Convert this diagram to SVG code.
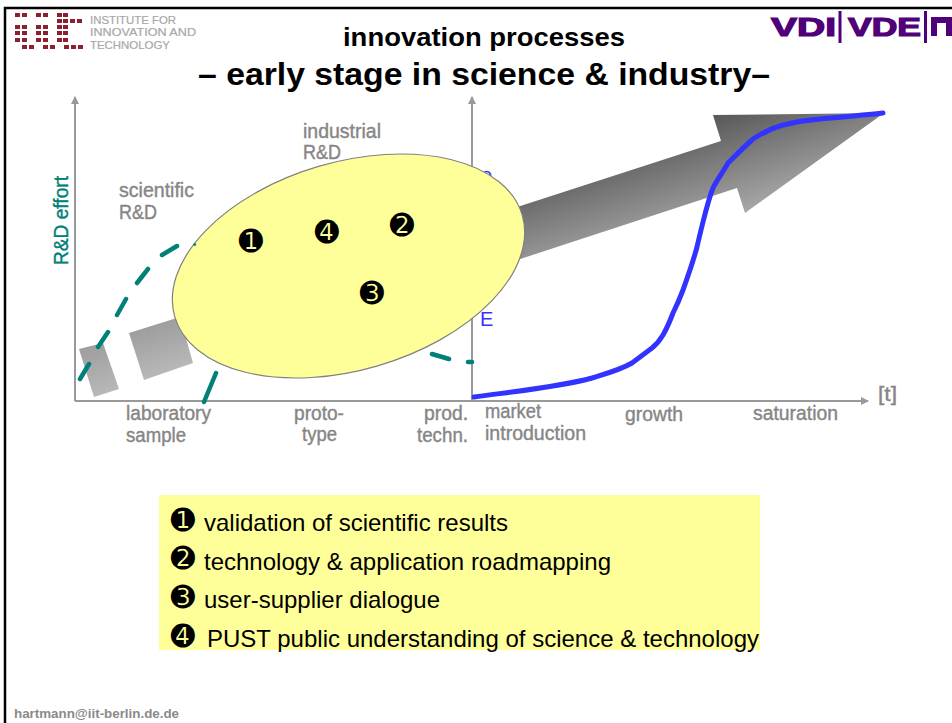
<svg xmlns="http://www.w3.org/2000/svg" width="952" height="723" viewBox="0 0 952 723">
<style>
text{font-family:"Liberation Sans",Arial,sans-serif}
.lab{font-size:20px;fill:#868686;stroke:#868686;stroke-width:.4px}
.d{font-family:"DejaVu Sans",sans-serif;fill:#000;text-anchor:middle;font-size:29px}
.li{font-size:24px;fill:#000}
.teal{fill:none;stroke:#008078;stroke-width:4.500;stroke-linecap:round}
.ax{fill:none;stroke:#999;stroke-width:2}
.logo{font-size:11px;fill:#a8a8a8;stroke:#a8a8a8;stroke-width:.2px}
.vdi{font-size:26px;font-weight:700;fill:#500078;stroke:#500078;stroke-width:1.200px}
</style>
<defs>
<linearGradient id="g" gradientUnits="userSpaceOnUse" x1="713" y1="115" x2="745" y2="213"><stop offset="0" stop-color="#585858"/><stop offset="1" stop-color="#a8a8a8"/></linearGradient>
<linearGradient id="g1" gradientUnits="userSpaceOnUse" x1="129" y1="333" x2="144" y2="380"><stop offset="0" stop-color="#9e9e9e"/><stop offset="1" stop-color="#b8b8b8"/></linearGradient>
<linearGradient id="g0" gradientUnits="userSpaceOnUse" x1="79" y1="349" x2="94" y2="397"><stop offset="0" stop-color="#9e9e9e"/><stop offset="1" stop-color="#b8b8b8"/></linearGradient>
<marker id="a" markerWidth="9" markerHeight="9" refX="7" refY="4" orient="auto" markerUnits="userSpaceOnUse"><path d="M0 0L8 4L0 8Z" fill="#999"/></marker>
</defs>
<rect width="952" height="723" fill="#fff"/>
<path d="M5 723V8H952" fill="none" stroke="#000" stroke-width="2.500"/>
<g id="logo-iit">
<path fill="#8c2030" d="M15 13h5v4h-5zM22 13h5v4h-5zM36 13h5v4h-5zM43 13h5v4h-5zM57 13h5v4h-5zM63 13h5v4h-5zM57 19h5v4h-5zM63 19h5v4h-5zM70 19h5v4h-5zM77 19h5v4h-5zM15 25h5v4h-5zM22 25h5v4h-5zM36 25h5v4h-5zM43 25h5v4h-5zM57 25h5v4h-5zM63 25h5v4h-5zM15 31h5v4h-5zM22 31h5v4h-5zM36 31h5v4h-5zM43 31h5v4h-5zM57 31h5v4h-5zM63 31h5v4h-5zM15 38h5v4h-5zM22 38h5v4h-5zM36 38h5v4h-5zM43 38h5v4h-5zM57 38h5v4h-5zM63 38h5v4h-5zM22 45h5v4h-5zM29 45h5v4h-5zM43 45h5v4h-5zM50 45h5v4h-5zM64 45h5v4h-5zM71 45h5v4h-5zM78 45h5v4h-5z"/>
<text class="logo" x="90" y="24" textLength="86" lengthAdjust="spacingAndGlyphs">INSTITUTE FOR</text>
<text class="logo" x="90" y="36" textLength="106" lengthAdjust="spacingAndGlyphs">INNOVATION AND</text>
<text class="logo" x="90" y="49" textLength="80" lengthAdjust="spacingAndGlyphs">TECHNOLOGY</text>
</g>
<g id="logo-vdi">
<text class="vdi" x="771" y="35.500" textLength="65" lengthAdjust="spacingAndGlyphs">VDI</text>
<rect x="838.500" y="11" width="3" height="32" fill="#500078"/>
<text class="vdi" x="848" y="35.500" textLength="73" lengthAdjust="spacingAndGlyphs">VDE</text>
<rect x="924" y="11" width="3" height="32" fill="#500078"/>
<path d="M931 17H952V36H946V23H937V36H931Z" fill="#500078"/>
</g>
<g id="title">
<text x="484" y="46" text-anchor="middle" font-size="25" font-weight="700" textLength="282" lengthAdjust="spacingAndGlyphs">innovation processes</text>
<text x="484" y="85" text-anchor="middle" font-size="32" font-weight="700" textLength="572" lengthAdjust="spacingAndGlyphs">– early stage in science &amp; industry–</text>
</g>
<g id="connectors">
<path class="ax" marker-end="url(#a)" d="M75 401V97"/>
<path class="ax" marker-end="url(#a)" d="M472 401V97"/>
<path class="ax" marker-end="url(#a)" d="M75 401H868"/>
</g>
<g id="big-arrow">
<polygon fill="url(#g0)" points="79,349 103,343 119,389 94,397"/>
<polygon fill="url(#g1)" points="129,333 180,317 193,363 144,380"/>
<polygon fill="url(#g)" points="505,211 721,141 713,115 884,113 745,213 737,188 505,264"/>
</g>
<g id="hidden-labels">
<text x="481" y="182" font-size="20" fill="#3333ff">e</text>
<text x="480" y="326" font-size="20" fill="#3333ff">E</text>
</g>
<g id="teal-curve">
<path class="teal" d="M80 379L89 364M98 347L108 332M117 315L126 299M137 283L148 269M162 255L177 246M204 402L216 373M432 354L449 359M468 362L472 362"/>
</g>
<g id="ellipse">
<ellipse cx="348.500" cy="266" rx="181" ry="104" transform="rotate(-16.300 348.500 266)" fill="#ffff99" stroke="#808080" stroke-width="1.200"/>
<path d="M194 245.500L195.500 243.500" stroke="#008078" stroke-width="2.500" fill="none"/>
<text class="d" x="251" y="251">➊</text>
<text class="d" x="402" y="235">➋</text>
<text class="d" x="372" y="303">➌</text>
<text class="d" x="327" y="242">➍</text>
</g>
<g id="s-curve">
<path fill="none" stroke="#3333ff" stroke-width="5" stroke-linecap="round" stroke-linejoin="round" d="M474 397C510 392 560 387 592 378C605 374 620 370 632 363L652 348C657 344 660 340 663 335C667 328 670 321 673 313C677 305 680 298 683 290C688 276 693 262 697 247C699 238 701 230 703 222C706 210 709 198 713 188C717 180 723 172 728 163C736 155 745 146 753 139C762 133 772 128 783 125C795 122 808 120 820 119C842 117 865 115 883 113"/>
</g>
<g id="labels">
<text class="lab" x="119" y="197" textLength="75" lengthAdjust="spacingAndGlyphs">scientific</text>
<text class="lab" x="119" y="219" textLength="38" lengthAdjust="spacingAndGlyphs">R&amp;D</text>
<text class="lab" x="303" y="138" textLength="78" lengthAdjust="spacingAndGlyphs">industrial</text>
<text class="lab" x="303" y="159" textLength="38" lengthAdjust="spacingAndGlyphs">R&amp;D</text>
<text transform="translate(68 265) rotate(-90)" font-size="20" fill="#008078" stroke="#008078" stroke-width=".4" textLength="89" lengthAdjust="spacingAndGlyphs">R&amp;D effort</text>
<text class="lab" x="126" y="420" textLength="85" lengthAdjust="spacingAndGlyphs">laboratory</text>
<text class="lab" x="126" y="442" textLength="60" lengthAdjust="spacingAndGlyphs">sample</text>
<text class="lab" x="294" y="420" textLength="50" lengthAdjust="spacingAndGlyphs">proto-</text>
<text class="lab" x="302" y="441" textLength="35" lengthAdjust="spacingAndGlyphs">type</text>
<text class="lab" x="424" y="420" textLength="44" lengthAdjust="spacingAndGlyphs">prod.</text>
<text class="lab" x="417" y="442" textLength="51" lengthAdjust="spacingAndGlyphs">techn.</text>
<text class="lab" x="485" y="418" textLength="56" lengthAdjust="spacingAndGlyphs">market</text>
<text class="lab" x="485" y="440" textLength="101" lengthAdjust="spacingAndGlyphs">introduction</text>
<text class="lab" x="625" y="421" textLength="58" lengthAdjust="spacingAndGlyphs">growth</text>
<text class="lab" x="753" y="420" textLength="85" lengthAdjust="spacingAndGlyphs">saturation</text>
<text class="lab" x="878" y="401" textLength="19" lengthAdjust="spacingAndGlyphs">[t]</text>
</g>
<g id="legend">
<rect x="159" y="495" width="601" height="155" fill="#ffff99"/>
<text class="d" x="183" y="530">➊</text>
<text class="li" x="204" y="531" textLength="304" lengthAdjust="spacingAndGlyphs">validation of scientific results</text>
<text class="d" x="183" y="568">➋</text>
<text class="li" x="204" y="570" textLength="407" lengthAdjust="spacingAndGlyphs">technology &amp; application roadmapping</text>
<text class="d" x="183" y="607">➌</text>
<text class="li" x="204" y="608" textLength="236" lengthAdjust="spacingAndGlyphs">user-supplier dialogue</text>
<text class="d" x="183" y="646">➍</text>
<text class="li" x="207" y="647" textLength="552" lengthAdjust="spacingAndGlyphs">PUST public understanding of science &amp; technology</text>
</g>
<g id="footer"><text x="14" y="718" font-size="13" font-weight="700" fill="#8a8a8a" textLength="165" lengthAdjust="spacingAndGlyphs">hartmann@iit-berlin.de.de</text></g>
</svg>
